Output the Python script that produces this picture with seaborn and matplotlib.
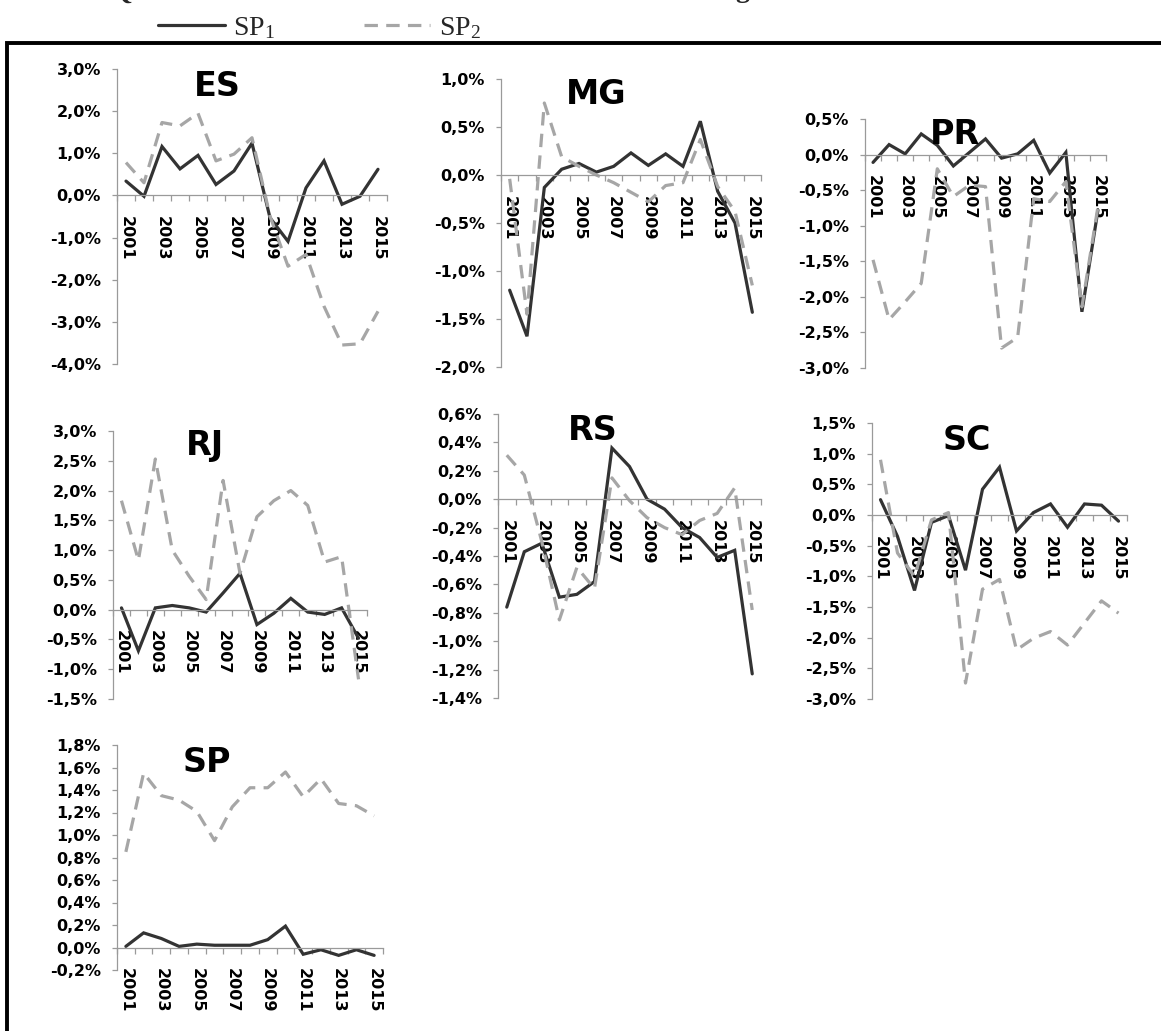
import numpy as np
import pandas as pd
import matplotlib
matplotlib.use("Agg")
import matplotlib.pyplot as plt
import seaborn as sns
from matplotlib.ticker import FixedLocator, FuncFormatter, NullFormatter
from matplotlib.patches import Rectangle
from matplotlib.font_manager import FontProperties

# ---------------- data ----------------
years = list(range(2001, 2016))
states = ["ES", "MG", "PR", "RJ", "RS", "SC", "SP"]
series_labels = ["SP$_\\mathrm{1}$", "SP$_\\mathrm{2}$"]

ES_sp1 = [0.34, -0.02, 1.16, 0.63, 0.95, 0.26, 0.58, 1.24, -0.53, -1.09, 0.18, 0.82, -0.21, -0.02, 0.62]
ES_sp2 = [0.78, 0.30, 1.73, 1.65, 1.95, 0.82, 0.98, 1.37, -0.49, -1.68, -1.40, -2.63, -3.55, -3.52, -2.75]

MG_sp1 = [-1.20, -1.68, -0.13, 0.06, 0.12, 0.03, 0.09, 0.23, 0.10, 0.22, 0.09, 0.56, -0.17, -0.50, -1.43]
MG_sp2 = [-0.04, -1.45, 0.75, 0.19, 0.09, 0.00, -0.08, -0.18, -0.28, -0.11, -0.08, 0.37, -0.12, -0.38, -1.15]

PR_sp1 = [-0.11, 0.14, 0.01, 0.29, 0.13, -0.16, 0.03, 0.22, -0.05, 0.01, 0.20, -0.26, 0.03, -2.21, -0.78]
PR_sp2 = [-1.48, -2.32, -2.07, -1.81, -0.20, -0.59, -0.43, -0.45, -2.72, -2.57, -0.62, -0.66, -0.38, -2.14, -0.73]

RJ_sp1 = [0.03, -0.69, 0.03, 0.07, 0.03, -0.04, 0.28, 0.61, -0.25, -0.06, 0.19, -0.04, -0.08, 0.03, -0.48]
RJ_sp2 = [1.83, 0.83, 2.53, 1.00, 0.56, 0.17, 2.17, 0.61, 1.56, 1.83, 2.00, 1.75, 0.80, 0.89, -1.17]

RS_sp1 = [-0.76, -0.37, -0.31, -0.69, -0.67, -0.58, 0.36, 0.23, 0.00, -0.07, -0.20, -0.27, -0.41, -0.36, -1.23]
RS_sp2 = [0.31, 0.17, -0.30, -0.85, -0.48, -0.63, 0.15, -0.01, -0.13, -0.20, -0.25, -0.15, -0.10, 0.08, -0.78]

SC_sp1 = [0.25, -0.35, -1.23, -0.12, -0.01, -0.90, 0.42, 0.78, -0.26, 0.04, 0.18, -0.20, 0.18, 0.16, -0.10]
SC_sp2 = [0.90, -0.62, -1.00, -0.08, 0.04, -2.74, -1.21, -1.05, -2.20, -2.01, -1.90, -2.12, -1.76, -1.40, -1.60]

SP_sp1 = [0.01, 0.13, 0.08, 0.01, 0.03, 0.02, 0.02, 0.02, 0.07, 0.19, -0.06, -0.02, -0.07, -0.02, -0.07]
SP_sp2 = [0.85, 1.55, 1.35, 1.31, 1.21, 0.95, 1.25, 1.42, 1.42, 1.56, 1.34, 1.50, 1.28, 1.26, 1.17]

y_ranges = {"ES": (-4.0, 3.0, 1.0), "MG": (-2.0, 1.0, 0.5), "PR": (-3.0, 0.5, 0.5),
            "RJ": (-1.5, 3.0, 0.5), "RS": (-1.4, 0.6, 0.2), "SC": (-3.0, 1.5, 0.5),
            "SP": (-0.2, 1.8, 0.2)}

values = {"ES": (ES_sp1, ES_sp2), "MG": (MG_sp1, MG_sp2), "PR": (PR_sp1, PR_sp2),
          "RJ": (RJ_sp1, RJ_sp2), "RS": (RS_sp1, RS_sp2), "SC": (SC_sp1, SC_sp2),
          "SP": (SP_sp1, SP_sp2)}

# ---------------- layout (pixels) ----------------
W, H = 1161, 1031
# x0, x1, y_top, y_bottom
boxes = {"ES": (117, 387, 69, 364), "MG": (501, 761, 79, 367), "PR": (865, 1106, 119, 368),
         "RJ": (113, 367, 431, 699), "RS": (498, 761, 414, 698), "SC": (872, 1127, 423, 699),
         "SP": (117, 383, 745, 970)}
title_pos = {"ES": (217, 87), "MG": (596, 95), "PR": (955, 134), "RJ": (205, 446),
             "RS": (593, 430), "SC": (967, 440), "SP": (207, 763)}

sns.set_style("white")
plt.rcParams["font.family"] = ["DejaVu Sans"]
plt.rcParams["mathtext.fontset"] = "custom"
plt.rcParams["mathtext.rm"] = "Liberation Serif"
plt.rcParams["mathtext.it"] = "Liberation Serif"
plt.rcParams["mathtext.bf"] = "Liberation Serif"

C1 = "#333333"
C2 = "#a6a6a6"
SPINE = "#9a9a9a"

fig = plt.figure(figsize=(W / 100, H / 100), dpi=100)
fig.patch.set_facecolor("white")

def fmt(v, pos):
    if abs(v) < 1e-9:
        v = 0.0
    return f"{v:.1f}%".replace(".", ",")

idx = np.arange(len(years))
legend_handles = None
for st in states:
    x0, x1, yt, yb = boxes[st]
    ax = fig.add_axes([x0 / W, 1 - yb / H, (x1 - x0) / W, (yb - yt) / H])
    ax.set_facecolor("none")
    s1, s2 = values[st]
    df = pd.DataFrame({"idx": idx, "sp1": s1, "sp2": s2})
    sns.lineplot(data=df, x="idx", y="sp1", ax=ax, color=C1, linewidth=2.3, legend=False)
    sns.lineplot(data=df, x="idx", y="sp2", ax=ax, color=C2, linewidth=2.3, legend=False)
    l1, l2 = ax.lines[0], ax.lines[1]
    l1.set_solid_joinstyle("miter")
    l2.set_linestyle((0, (4.2, 2.6)))
    if legend_handles is None:
        legend_handles = [l1, l2]
    lo, hi, step = y_ranges[st]
    ax.set_xlim(-0.5, len(years) - 0.5)
    ax.set_ylim(lo, hi)
    ax.set_xlabel("")
    ax.set_ylabel("")
    for s in ["top", "right"]:
        ax.spines[s].set_visible(False)
    for s in ["left", "bottom"]:
        ax.spines[s].set_color(SPINE)
        ax.spines[s].set_linewidth(0.9)
    ax.spines["bottom"].set_position(("data", 0))
    ax.yaxis.set_major_locator(FixedLocator(np.round(np.arange(lo, hi + step / 2, step), 6)))
    ax.yaxis.set_major_formatter(FuncFormatter(fmt))
    ax.tick_params(axis="y", which="major", direction="out", length=3.5, width=0.9,
                   color=SPINE, pad=8, labelsize=11.5, labelcolor="black", left=True)
    for t in ax.get_yticklabels():
        t.set_fontweight("bold")
    ax.xaxis.set_major_locator(FixedLocator(np.arange(-0.5, len(years), 1.0)))
    ax.xaxis.set_major_formatter(NullFormatter())
    ax.xaxis.set_minor_locator(FixedLocator(idx[::2]))
    ax.xaxis.set_minor_formatter(FuncFormatter(lambda v, p: str(years[int(round(v))])))
    ax.tick_params(axis="x", which="major", direction="out", length=4.5, width=0.9,
                   color=SPINE, bottom=True)
    ax.tick_params(axis="x", which="minor", length=0, pad=15, labelsize=11.5,
                   labelcolor="black", labelrotation=270, bottom=True)
    for t in ax.xaxis.get_minorticklabels():
        t.set_fontweight("bold")
        t.set_va("top")
        t.set_ha("center")
    tx, ty = title_pos[st]
    fig.text(tx / W, 1 - ty / H, st, fontsize=24, fontweight="bold",
             ha="center", va="center", color="black")

# legend
leg = fig.legend(legend_handles, series_labels, loc="center left",
                 bbox_to_anchor=(158 / W, 1 - 28 / H), ncol=2, frameon=False,
                 prop=FontProperties(family="Liberation Serif", size=20),
                 handlelength=2.4, handletextpad=0.3, columnspacing=3.2,
                 borderaxespad=0, borderpad=0)

# outer frame
fig.add_artist(Rectangle((7 / W, 1 - 1040 / H), (1175 - 7) / W, (1040 - 43) / H,
                         transform=fig.transFigure, fill=False, lw=2.8, ec="black",
                         clip_on=False))

# cut-off heading fragments at very top
fig.text(121 / W, 1 + 8 / H, "Q", fontsize=20, fontweight="bold", family="Liberation Serif",
         ha="center", va="center")
fig.text(742 / W, 1 + 3 / H, "g", fontsize=20, fontweight="bold", family="Liberation Serif",
         ha="center", va="baseline")

fig.savefig("out.png", dpi=100, facecolor="white")
